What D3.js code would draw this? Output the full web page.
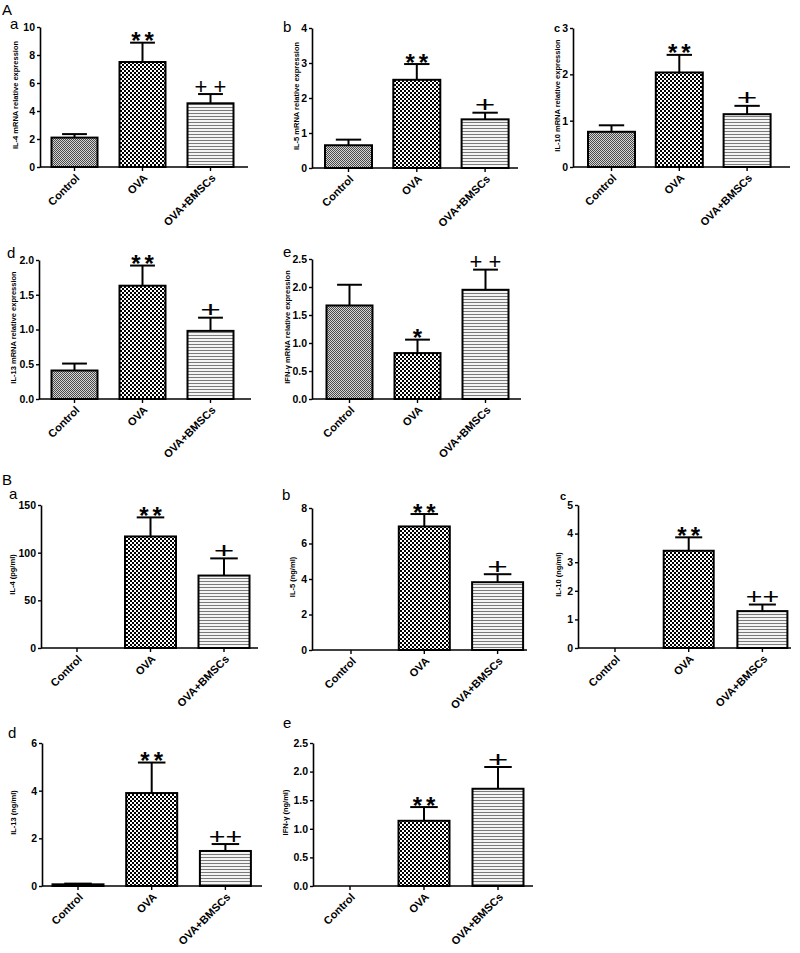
<!DOCTYPE html>
<html>
<head>
<meta charset="utf-8">
<script src="https://cdn.jsdelivr.net/npm/d3@7"></script>
<style>
  body { margin: 0; background: #fff; }
  svg { display: block; font-family: "Liberation Sans", Arial, sans-serif; }
  .tick text { font-weight: bold; }
  .ytick text { font-family: "Liberation Sans Narrow", "Arial Narrow", "Liberation Sans", Arial, sans-serif; }
</style>
</head>
<body>
<div class="chart"></div>
<script>
// ---- data ----
const categories = ['Control', 'OVA', 'OVA+BMSCs'];

const yTitles = [
  'IL-4 mRNA relative expression', 'IL-5 mRNA relative expression', 'IL-10 mRNA relative expression',
  'IL-13 mRNA relative expression', 'IFN-\u03b3  mRNA relative expression',
  'IL-4  (pg/ml)', 'IL-5  (ng/ml)', 'IL-10  (ng/ml)', 'IL-13  (ng/ml)', 'IFN-\u03b3  (ng/ml)'
];

const yTicks = [
  [0, 2, 4, 6, 8, 10], [0, 1, 2, 3, 4], [0, 1, 2, 3],
  [0, 0.5, 1, 1.5, 2], [0, 0.5, 1, 1.5, 2, 2.5],
  [0, 50, 100, 150], [0, 2, 4, 6, 8], [0, 1, 2, 3, 4, 5],
  [0, 2, 4, 6], [0, 0.5, 1, 1.5, 2, 2.5]
];

const means = [
  [2.1, 7.5, 4.55], [0.65, 2.52, 1.39], [0.76, 2.04, 1.14],
  [0.41, 1.63, 0.98], [1.67, 0.82, 1.95],
  [0, 117, 76], [0, 6.96, 3.82], [0, 3.4, 1.29],
  [0.07, 3.9, 1.47], [0, 1.14, 1.7]
];

const sems = [
  [0.25, 1.38, 0.66], [0.16, 0.45, 0.19], [0.14, 0.38, 0.18],
  [0.1, 0.29, 0.19], [0.37, 0.24, 0.36],
  [0, 20, 18], [0, 0.7, 0.45], [0, 0.47, 0.23],
  [0.03, 1.28, 0.29], [0, 0.24, 0.38]
];

const marks = [
  ['', '**', '+ +'], ['', '**', '+'], ['', '**', '+'],
  ['', '**', '+'], ['', '*', '+ +'],
  ['', '**', '+'], ['', '**', '+'], ['', '**', '++'],
  ['', '**', '++'], ['', '**', '+']
];

// ---- layout of each panel (pixels) ----
const layout = [
  { ax: 40,  top: 27,  zero: 167, end: 248, c0: 74.5,  step: 68,   bw: 46, tx: 15 },
  { ax: 312, top: 28,  zero: 168, end: 518, c0: 348.5, step: 68.3, bw: 47, tx: 301 },
  { ax: 573, top: 28,  zero: 167, end: 790, c0: 611.5, step: 67.8, bw: 47, tx: 561 },
  { ax: 39,  top: 260, zero: 399, end: 251, c0: 74.5,  step: 68,   bw: 46, tx: 13.5 },
  { ax: 312, top: 259, zero: 399, end: 521, c0: 349.5, step: 68,   bw: 46, tx: 300 },
  { ax: 41,  top: 505, zero: 648, end: 258, c0: 77,    step: 73.5, bw: 51, tx: 12 },
  { ax: 312, top: 508, zero: 650, end: 527, c0: 351,   step: 73.3, bw: 51, tx: 292 },
  { ax: 578, top: 505, zero: 648, end: 791, c0: 615,   step: 73.7, bw: 50, tx: 558 },
  { ax: 42,  top: 743, zero: 886, end: 262, c0: 78,    step: 73.7, bw: 51, tx: 13 },
  { ax: 313, top: 743, zero: 886, end: 533, c0: 350,   step: 74,   bw: 51, tx: 285 }
];

const letters = [
  { t: 'A', x: 2, y: 15, s: 15 }, { t: 'a', x: 10, y: 29, s: 15 },
  { t: 'b', x: 283, y: 32, s: 15 }, { t: 'c', x: 554, y: 32, s: 11, b: true },
  { t: 'd', x: 7, y: 258, s: 15 }, { t: 'e', x: 283, y: 257, s: 15 },
  { t: 'B', x: 2, y: 485, s: 15 }, { t: 'a', x: 9, y: 499, s: 15 },
  { t: 'b', x: 282, y: 500, s: 15 }, { t: 'c', x: 560, y: 500, s: 11, b: true },
  { t: 'd', x: 8, y: 738, s: 15 }, { t: 'e', x: 283, y: 728, s: 15 }
];

const svg = d3.select('.chart').append('svg')
  .attr('width', 800)
  .attr('height', 953);

// fill patterns ------------------------------
const defs = svg.append('defs');
const pCtrl = defs.append('pattern').attr('id', 'p0')
  .attr('patternUnits', 'userSpaceOnUse').attr('width', 2).attr('height', 2);
pCtrl.append('rect').attr('width', 2).attr('height', 2).attr('fill', '#d4d4d4');
pCtrl.append('rect').attr('width', 1).attr('height', 1).attr('fill', '#4a4a4a');
pCtrl.append('rect').attr('x', 1).attr('y', 1).attr('width', 1).attr('height', 1).attr('fill', '#4a4a4a');

const pOva = defs.append('pattern').attr('id', 'p1')
  .attr('patternUnits', 'userSpaceOnUse').attr('width', 4).attr('height', 4);
pOva.append('rect').attr('width', 4).attr('height', 4).attr('fill', '#000');
pOva.append('rect').attr('width', 2).attr('height', 2).attr('fill', '#fff');
pOva.append('rect').attr('x', 2).attr('y', 2).attr('width', 2).attr('height', 2).attr('fill', '#fff');

const pBm = defs.append('pattern').attr('id', 'p2')
  .attr('patternUnits', 'userSpaceOnUse').attr('width', 4).attr('height', 3);
pBm.append('rect').attr('width', 4).attr('height', 3).attr('fill', '#f4f4f4');
pBm.append('rect').attr('y', 2).attr('width', 4).attr('height', 1).attr('fill', '#7a7a7a');

const fills = ['url(#p0)', 'url(#p1)', 'url(#p2)'];

// panels --------------------------------------
layout.forEach((L, i) => {
  const g = svg.append('g');
  const ticks = yTicks[i];
  const maxV = d3.max(ticks);
  const dec = ticks.some(t => t % 1 !== 0);

  const x = d3.scaleBand()
    .domain(categories)
    .range([L.c0 - L.step / 2, L.c0 + L.step * 2.5])
    .paddingInner(1 - L.bw / L.step)
    .paddingOuter((1 - L.bw / L.step) / 2);

  const y = d3.scaleLinear().domain([0, maxV]).range([L.zero, L.top]);

  const rows = categories.map((c, k) => ({ c, k, v: means[i][k], e: sems[i][k], m: marks[i][k] }));

  // error bars
  const eb = rows.filter(d => d.e > 0);
  g.selectAll('.err').data(eb).enter().append('line')
    .attr('x1', d => x(d.c) + x.bandwidth() / 2)
    .attr('x2', d => x(d.c) + x.bandwidth() / 2)
    .attr('y1', d => y(d.v))
    .attr('y2', d => y(d.v + d.e))
    .attr('stroke', '#000').attr('stroke-width', 2);
  g.selectAll('.cap').data(eb).enter().append('line')
    .attr('x1', d => x(d.c) + x.bandwidth() * 0.23)
    .attr('x2', d => x(d.c) + x.bandwidth() * 0.77)
    .attr('y1', d => y(d.v + d.e))
    .attr('y2', d => y(d.v + d.e))
    .attr('stroke', '#000').attr('stroke-width', 2);

  // bars
  g.selectAll('.bar').data(rows.filter(d => d.v > 0)).enter().append('rect')
    .attr('x', d => x(d.c))
    .attr('y', d => y(d.v))
    .attr('width', x.bandwidth())
    .attr('height', d => y(0) - y(d.v))
    .attr('fill', d => fills[d.k])
    .attr('stroke', '#000')
    .attr('stroke-width', 2);

  // y axis
  const ya = g.append('g')
    .attr('class', 'ytick')
    .attr('transform', `translate(${L.ax},0)`)
    .call(d3.axisLeft(y).tickValues(ticks).tickSize(3).tickSizeOuter(0).tickPadding(2)
      .tickFormat(d3.format(dec ? '.1f' : 'd')));
  ya.select('.domain').attr('stroke-width', 1.6);
  ya.selectAll('.tick line').attr('stroke-width', 1.4);
  ya.selectAll('.tick text').style('font-size', '10.5px');

  // x axis line + ticks + rotated labels
  g.append('line')
    .attr('x1', L.ax).attr('x2', L.end)
    .attr('y1', y(0)).attr('y2', y(0))
    .attr('stroke', '#000').attr('stroke-width', 1.6);
  const xa = g.append('g')
    .attr('transform', `translate(0,${y(0)})`)
    .call(d3.axisBottom(x).tickSize(4).tickSizeOuter(0));
  xa.select('.domain').remove();
  xa.selectAll('.tick line').attr('stroke-width', 1.4);
  xa.selectAll('.tick text')
    .attr('x', 0).attr('y', 0).attr('dy', '0.35em')
    .attr('transform', 'translate(3,9) rotate(-45)')
    .attr('text-anchor', 'end')
    .style('font-size', '11px');

  // y title, kept clear of the tick labels
  let left = Infinity;
  ya.selectAll('.tick text').each(function () {
    const b = this.getBBox();
    const m = this.parentNode.transform.baseVal.consolidate();
    const tx = L.ax + (m ? m.matrix.e : 0) + b.x;
    left = Math.min(left, tx);
  });
  const titleX = Math.min(L.tx, left - 5);
  g.append('text')
    .attr('transform', `translate(${titleX},${(L.top + L.zero) / 2 - 2}) rotate(-90)`)
    .attr('text-anchor', 'middle')
    .attr('dy', '0.35em')
    .style('font-size', '7.5px')
    .style('font-weight', 'bold')
    .text(yTitles[i]);

  // significance marks
  rows.filter(d => d.m).forEach(d => {
    const cx = x(d.c) + x.bandwidth() / 2;
    const capY = y(d.v + d.e) - 3;
    const star = d.m.indexOf('*') >= 0;
    const fs = star ? 24 : 22;
    const sx = d.m === '+' ? 1.6 : (d.m === '++' ? 1.3 : 1);
    const ls = star && d.m.length > 1 ? 4 : 0;
    g.append('text')
      .attr('transform', `translate(${cx},${capY}) scale(${sx},1)`)
      .attr('x', ls / 2)
      .attr('y', star ? fs * 0.40 : fs * 0.12)
      .attr('text-anchor', 'middle')
      .style('font-size', fs + 'px')
      .style('font-weight', star ? 'bold' : 'normal')
      .style('letter-spacing', ls + 'px')
      .text(d.m);
  });
});

// panel letters
svg.selectAll('.letter').data(letters).enter().append('text')
  .attr('x', d => d.x).attr('y', d => d.y)
  .style('font-size', d => d.s + 'px')
  .style('font-weight', d => d.b ? 'bold' : 'normal')
  .text(d => d.t);
</script>
</body>
</html>
